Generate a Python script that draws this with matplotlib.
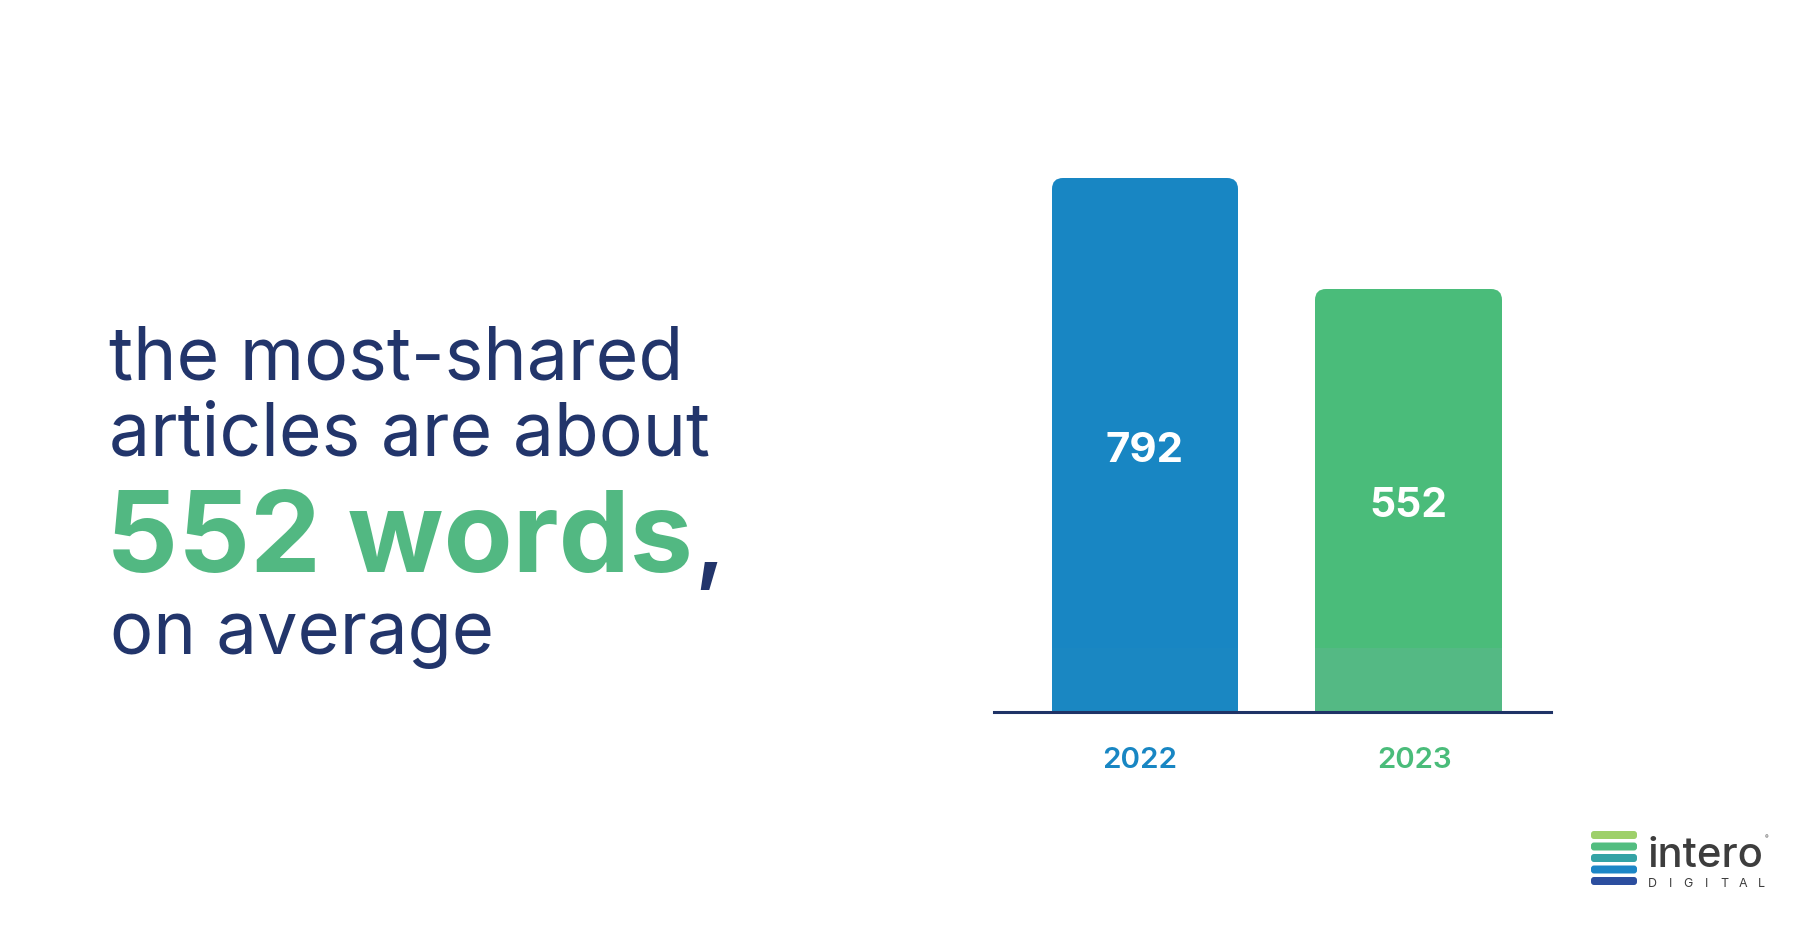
import matplotlib
matplotlib.use("Agg")
import matplotlib.pyplot as plt
import numpy as np
from matplotlib.patches import FancyBboxPatch, Rectangle, PathPatch
from matplotlib.path import Path
from matplotlib.transforms import IdentityTransform, blended_transform_factory, offset_copy

# ---- data ----
years = ["2022", "2023"]
words = [792, 552]
bar_colors = ["#1886C3", "#4ABC7A"]
band_colors = ["#1A87C2", "#54B984"]
label_colors = ["#1886C3", "#4ABC7A"]
headline_lines = ["the most-shared", "articles are about"]
highlight = "552 words"
tail = "on average"
logo_word = "intero"
logo_sub = "DIGITAL"
logo_stripes = ["#9ED06A", "#52BD80", "#34A3A5", "#1C86C6", "#2C4E9F"]

NAVY = "#22356B"
GREEN_TXT = "#52B882"
FONT = ["Inter", "DejaVu Sans"]

W, H = 1800, 945
fig = plt.figure(figsize=(18, 9.45), dpi=100)
fig.patch.set_facecolor("white")
renderer = fig.canvas.get_renderer()


def px_rect(l, t, r, b):
    return [l / W, 1 - b / H, (r - l) / W, (b - t) / H]


def fit(txt, target):
    for _ in range(3):
        w = txt.get_window_extent(renderer).width
        txt.set_fontsize(txt.get_fontsize() * target / w)
    return txt


def rounded_top(x0, y0, x1, y1, r):
    verts = [(x0, y0), (x0, y1 - r), (x0, y1), (x0 + r, y1), (x1 - r, y1),
             (x1, y1), (x1, y1 - r), (x1, y0), (x0, y0)]
    codes = [Path.MOVETO, Path.LINETO, Path.CURVE3, Path.CURVE3, Path.LINETO,
             Path.CURVE3, Path.CURVE3, Path.LINETO, Path.CLOSEPOLY]
    return Path(verts, codes)


# overlay axes in pixel coordinates (top-left origin) for text & logo
axo = fig.add_axes([0, 0, 1, 1], zorder=-1)
axo.set_xlim(0, W)
axo.set_ylim(H, 0)
axo.axis("off")

# ---- bar chart ----
base = -363
ax = fig.add_axes(px_rect(994, 179, 1551, 713))
ax.set_xlim(-0.573, 1.541)
ax.set_ylim(base, max(words))
x = np.arange(len(years))
bars = ax.bar(x, [w - base for w in words], bottom=base, width=0.708,
              color=bar_colors)
ident = IdentityTransform()
for b, c, bc in zip(bars, bar_colors, band_colors):
    (x0, y0), (x1, y1) = ax.transData.transform(
        [(b.get_x(), b.get_y()), (b.get_x() + b.get_width(), b.get_y() + b.get_height())])
    x0, x1, y0, y1 = round(x0), round(x1), round(y0), round(y1)
    b.set_visible(False)
    ax.add_patch(PathPatch(rounded_top(x0, y0, x1, y1, 11), transform=ident,
                           facecolor=c, edgecolor="none", clip_on=False, zorder=2))
    ax.add_patch(Rectangle((x0, y0), x1 - x0, 64, transform=ident,
                           facecolor=bc, edgecolor="none", clip_on=False, zorder=2.1))

val_tr = offset_copy(ax.transData, fig=fig, y=-16, units="dots")
for i, w in enumerate(words):
    t = ax.text(i, (base + w) / 2, str(w), ha="center", va="baseline", color="white",
                fontsize=28, fontweight="bold", family=FONT, zorder=3,
                transform=val_tr)
    fit(t, 78)

ax.axhline(base, color="#1F3366", lw=2.2, clip_on=False, zorder=4)
for s in ax.spines.values():
    s.set_visible(False)
ax.set_xticks([])
ax.set_yticks([])
ax.patch.set_alpha(0)

yr_tr = blended_transform_factory(ax.transData, axo.transData)
for i, (yr, c) in enumerate(zip(years, label_colors)):
    tr = offset_copy(yr_tr, fig=fig, x=(-5.5 if i == 0 else 6), units="dots")
    t = ax.text(i, 768, yr, ha="center", va="baseline", color=c,
                fontsize=22, fontweight="semibold", family=FONT,
                transform=tr, clip_on=False)
    fit(t, 75)

# ---- headline text ----
t1 = axo.text(109, 379, headline_lines[0], fontsize=44, color=NAVY,
              va="baseline", ha="left", family=FONT)
fit(t1, 574)
t2 = axo.text(109, 456, headline_lines[1], fontsize=44, color=NAVY,
              va="baseline", ha="left", family=FONT)
fit(t2, 601)
t4 = axo.text(110, 654, tail, fontsize=44, color=NAVY,
              va="baseline", ha="left", family=FONT)
fit(t4, 384)
th = axo.text(106, 572, highlight, fontsize=80, color=GREEN_TXT,
              fontweight="bold", va="baseline", ha="left", family=FONT)
fit(th, 587)
ext = th.get_window_extent(renderer)
xr = axo.transData.inverted().transform((ext.x1, ext.y0))[0]
axo.text(xr + 1, 572, ",", fontsize=th.get_fontsize() * 0.85, color=NAVY,
         fontweight="semibold", va="baseline", ha="left", family=FONT)

# ---- logo ----
stripe_tops = [832, 843.5, 855, 866.5, 878]
for top, c in zip(stripe_tops, logo_stripes):
    axo.add_patch(FancyBboxPatch((1591, top), 46, 8,
                                 boxstyle="round,pad=0,rounding_size=3",
                                 facecolor=c, edgecolor="none"))
tl = axo.text(1647, 867, logo_word, fontsize=30, color="#3D3D3D",
              va="baseline", ha="left", family=FONT, fontweight="medium")
fit(tl, 116)
axo.text(1765, 838, "®", fontsize=4, color="#3D3D3D", ha="left", va="center",
         family=FONT)
for lx, ch in zip(np.linspace(1652, 1761, len(logo_sub)), logo_sub):
    axo.text(lx, 887, ch, fontsize=9, color="#3D3D3D", ha="center",
             va="baseline", family=FONT)

fig.savefig("out.png", dpi=100, facecolor="white")
